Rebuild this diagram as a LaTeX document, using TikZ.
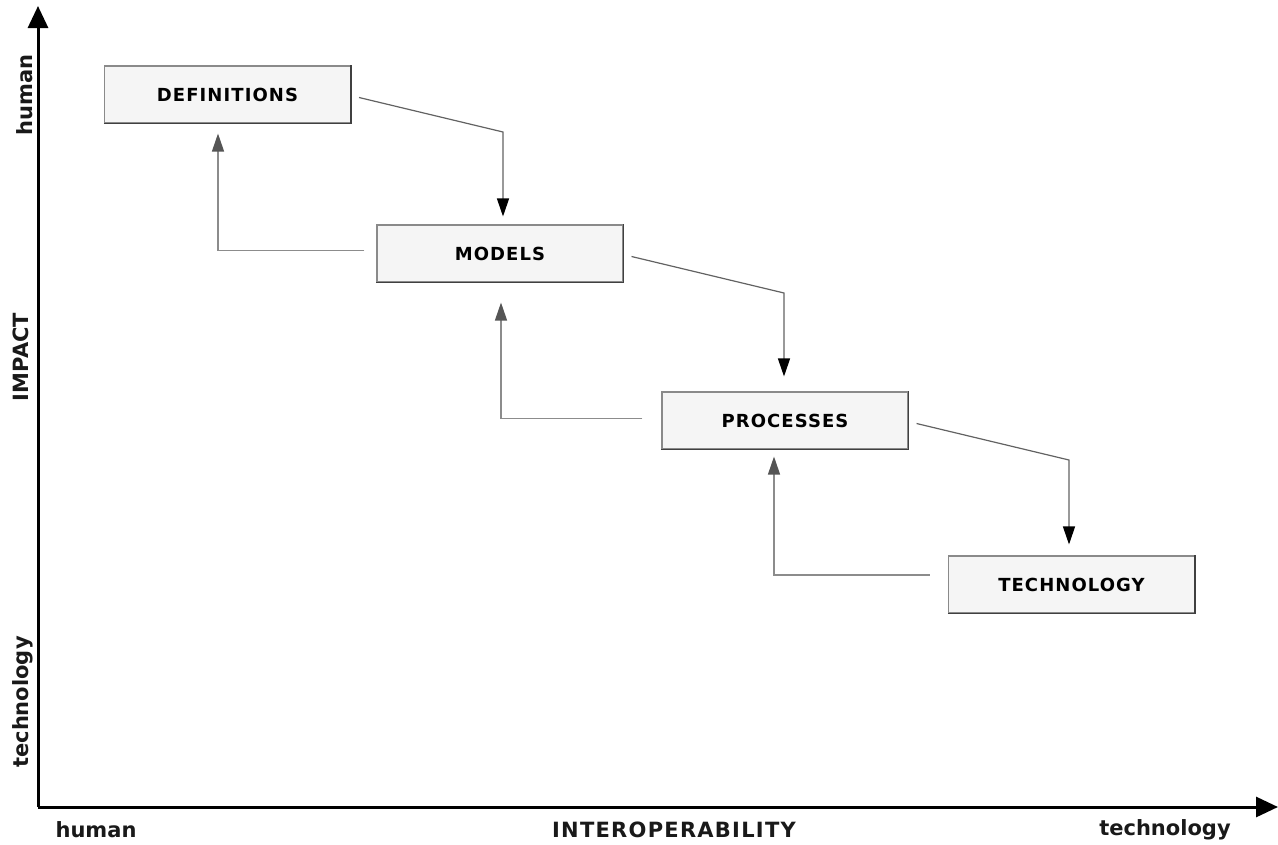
\documentclass[tikz,border=0pt]{standalone}
\usepackage{fontspec}
\setmainfont{DejaVu Sans}
\usetikzlibrary{arrows.meta,calc}
\definecolor{boxfill}{HTML}{F5F5F5}
\definecolor{boxedge}{HTML}{8A8A8A}
\definecolor{boxdark}{HTML}{404040}
\definecolor{linkgray}{HTML}{8C8C8C}
\definecolor{backtip}{HTML}{555555}
\tikzset{
  stage/.style={draw=boxedge, fill=boxfill, line width=1.1pt,
    minimum width=246pt, minimum height=57pt, inner sep=0pt,
    font=\fontsize{18}{20}\selectfont\bfseries\addfontfeatures{LetterSpace=6}},
  axislabel/.style={font=\fontsize{21}{24}\selectfont\bfseries, text=black!90, inner sep=0pt},
  axis/.style={line width=3pt, -{Triangle[width=20pt,length=22pt]}},
  fwd/.style={draw=linkgray!70!black, line width=1.2pt,
    -{Triangle[width=12pt,length=18pt,color=black]}},
  back/.style={draw=linkgray, line width=1.2pt,
    -{Triangle[width=12pt,length=18pt,color=backtip]}},
}
\begin{document}
\begin{tikzpicture}[x=1pt,y=-1pt]
\useasboundingbox (0,0) rectangle (1278,844);

% axes
\coordinate (origin) at (38,807);
\coordinate (ytop) at (38,6);
\coordinate (xend) at (1278,807);
\draw[axis] (origin) -- (ytop);
\draw[axis] (origin) -- (xend);

% axis labels
\node[axislabel, rotate=90] (yhuman) at (25,95) {human};
\node[axislabel, rotate=90] (yimpact) at (21,357) {IMPACT};
\node[axislabel, rotate=90] (ytech) at (23,702) {technology};
\node[axislabel] (xhuman) at (96,830) {human};
\node[axislabel, font=\fontsize{21}{24}\selectfont\bfseries\addfontfeatures{LetterSpace=6}] (xinterop) at (674,830) {INTEROPERABILITY};
\node[axislabel] (xtech) at (1165,830) {technology};

% stages
\node[stage] (defs) at (227.5,94.5) {DEFINITIONS};
\node[stage] (models) at (500,253.5) {MODELS};
\node[stage] (procs) at (785,420.5) {PROCESSES};
\node[stage] (techn) at (1071.5,584.5) {TECHNOLOGY};
\foreach \n in {defs,models,procs,techn}{
  \draw[boxdark, line width=1.2pt] (\n.south west) -- (\n.south east) -- (\n.north east);
}

% downward links
\coordinate (d1) at (503,132);
\coordinate (d2) at (784,293);
\coordinate (d3) at (1069,460);
\draw[fwd] ($(defs.east)+(8,3)$) -- (d1) -- ($(d1 |- models.north)+(0,-8)$);
\draw[fwd] ($(models.east)+(8,3)$) -- (d2) -- ($(d2 |- procs.north)+(0,-15)$);
\draw[fwd] ($(procs.east)+(8,3)$) -- (d3) -- ($(d3 |- techn.north)+(0,-11)$);

% upward links
\draw[back] ($(models.west)+(-12,-3)$) -| ($(defs.south)+(-9.5,10)$);
\draw[back] ($(procs.west)+(-19,-2)$) -| ($(models.south)+(1,20)$);
\draw[back] ($(techn.west)+(-18,-9.5)$) -| ($(procs.south)+(-11,7)$);
\end{tikzpicture}
\end{document}
